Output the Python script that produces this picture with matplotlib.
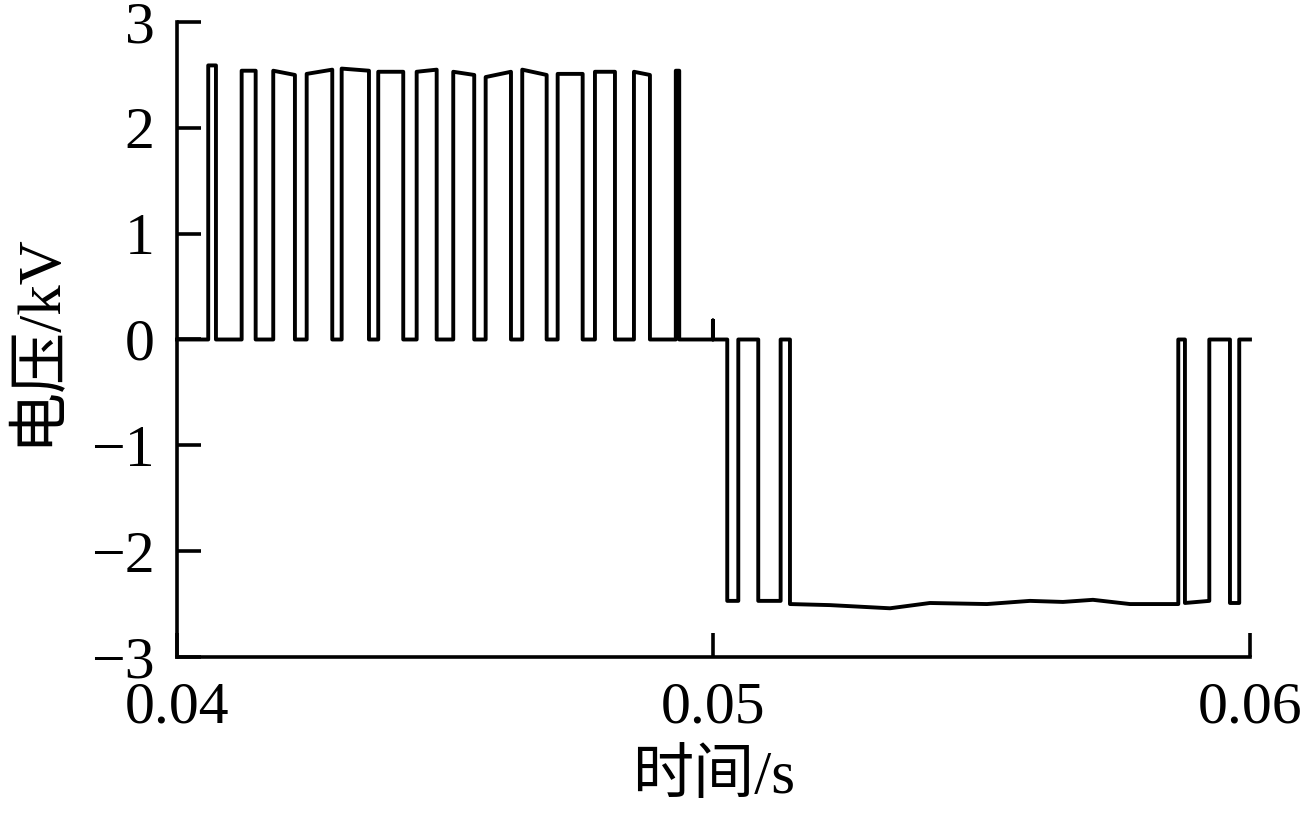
import matplotlib
matplotlib.use("Agg")
import matplotlib.pyplot as plt

plt.rcParams['font.family'] = ['Liberation Serif', 'Noto Sans CJK SC']

# positive half-cycle pulses: start/end time (s), level at start/end (kV)
pos_start = [0.040583, 0.041206, 0.041795, 0.042418, 0.043070, 0.043752, 0.044468,
             0.045150, 0.045754, 0.046436, 0.047096, 0.047791, 0.048518, 0.049298]
pos_end = [0.040727, 0.041467, 0.042199, 0.042895, 0.043579, 0.044218, 0.044841,
           0.045541, 0.046226, 0.046891, 0.047562, 0.048164, 0.048816, 0.049362]
pos_top_a = [2.59, 2.54, 2.54, 2.51, 2.56, 2.53, 2.53, 2.53, 2.48, 2.55, 2.51, 2.53, 2.53, 2.54]
pos_top_b = [2.59, 2.54, 2.50, 2.55, 2.54, 2.53, 2.55, 2.50, 2.53, 2.50, 2.51, 2.53, 2.50, 2.54]

# small spike at the zero crossing
spike_t = 0.04999
spike_v = 0.18

# short negative pulses
neg_start = [0.050257, 0.050835, 0.058788, 0.059627]
neg_end = [0.050463, 0.051252, 0.059242, 0.059800]
neg_lvl_a = [-2.47, -2.47, -2.49, -2.49]
neg_lvl_b = [-2.47, -2.47, -2.47, -2.49]

# long negative plateau
plat_t = [0.051426, 0.052171, 0.053290, 0.054035, 0.055098, 0.055899,
          0.056514, 0.057073, 0.057763, 0.058564, 0.058664]
plat_v = [-2.50, -2.51, -2.54, -2.49, -2.50, -2.47, -2.48, -2.46, -2.50, -2.50, -2.50]

t_begin, t_finish = 0.04, 0.06

# collect every pulse as a list of (t, v) vertices then join with zero level
pulses = []
for a, b, va, vb in zip(pos_start, pos_end, pos_top_a, pos_top_b):
    pulses.append([(a, va), (b, vb)])
for a, b, va, vb in zip(neg_start, neg_end, neg_lvl_a, neg_lvl_b):
    pulses.append([(a, va), (b, vb)])
pulses.append([(spike_t, spike_v), (spike_t, spike_v)])
pulses.append(list(zip(plat_t, plat_v)))
pulses.sort(key=lambda p: p[0][0])

t = [t_begin]
v = [0.0]
for p in pulses:
    t.append(p[0][0])
    v.append(0.0)
    for tt, vv in p:
        t.append(tt)
        v.append(vv)
    t.append(p[-1][0])
    v.append(0.0)
t.append(t_finish)
v.append(0.0)

fig = plt.figure(figsize=(13.03, 8.16), dpi=100)
ax = fig.add_axes([0.1358, 0.1949, 0.8235, 0.7781])
ax.plot(t, v, color='black', linewidth=2.8, solid_joinstyle='round', clip_on=False)

ax.set_xlim(0.04, 0.06)
ax.set_ylim(-3, 3)
ax.set_xticks([0.04, 0.05, 0.06])
ax.set_xticklabels(['0.04', '0.05', '0.06'])
ax.set_yticks([-3, -2, -1, 0, 1, 2, 3])

for s in ['top', 'right']:
    ax.spines[s].set_visible(False)
for s in ['left', 'bottom']:
    ax.spines[s].set_linewidth(2.6)

ax.tick_params(axis='both', direction='in', length=17, width=2.6, labelsize=43)
ax.tick_params(axis='x', pad=18)
ax.tick_params(axis='y', pad=16)

ax.set_xlabel('时间/s', fontsize=44, labelpad=10)
ax.set_ylabel('电压/kV', fontsize=44, labelpad=18)

fig.savefig('out.png', dpi=100)
